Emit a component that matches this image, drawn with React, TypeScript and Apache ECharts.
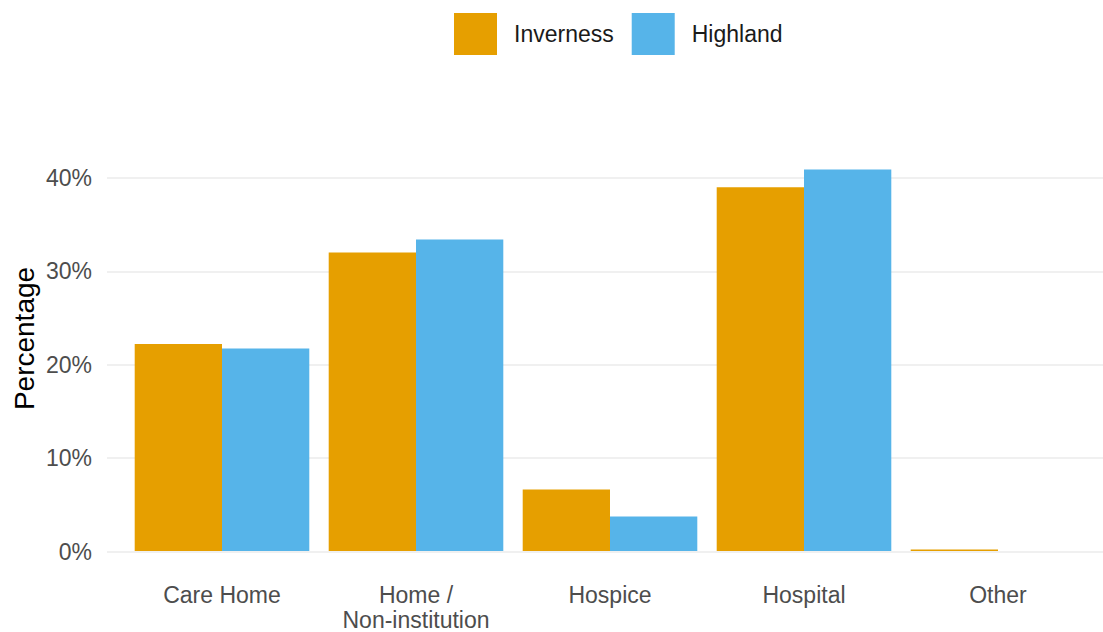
import React, { useEffect, useRef } from "react";
import * as echarts from "echarts";

const categories = ["Care Home", "Home /\nNon-institution", "Hospice", "Hospital", "Other"];
const invernessValues = [22.2, 32.0, 6.6, 39.0, 0.15];
const highlandValues = [21.7, 33.4, 3.7, 40.9, 0];
const seriesNames = ["Inverness", "Highland"];
const yTicks = [0, 10, 20, 30, 40];

const FONT = "'Liberation Sans', Arial, sans-serif";

export default function App() {
  const ref = useRef<HTMLDivElement>(null);
  useEffect(() => {
    if (!ref.current) return;
    const chart = echarts.init(ref.current, null, { renderer: "svg" });
    const pxPerUnit = (551.5 - 178) / 40;
    const barGridTop = 551.5 - 50 * pxPerUnit;
    chart.setOption({
      animation: false,
      textStyle: { fontFamily: FONT },
      grid: [
        { left: 107, right: 0, top: 178, bottom: 632 - 551.5 },
        { left: 125, right: 8, top: barGridTop, bottom: 632 - 551.5 },
      ],
      legend: {
        left: 454,
        top: 13,
        padding: 0,
        itemWidth: 43,
        itemHeight: 42,
        itemGap: 18,
        icon: "rect",
        data: seriesNames,
        textStyle: { fontSize: 23, color: "#1a1a1a", fontFamily: FONT, padding: [0, 0, 0, 12] },
      },
      xAxis: [
        { type: "value", gridIndex: 0, show: false, min: 0, max: 1 },
        {
          type: "category",
          gridIndex: 1,
          data: categories,
          axisLine: { show: false },
          axisTick: { show: false },
          axisLabel: {
            fontSize: 23,
            color: "#4D4D4D",
            fontFamily: FONT,
            margin: 31,
            lineHeight: 25,
            interval: 0,
          },
        },
      ],
      yAxis: [
        {
          type: "value",
          gridIndex: 0,
          min: yTicks[0],
          max: yTicks[yTicks.length - 1],
          interval: 10,
          axisLine: { show: false },
          axisTick: { show: false },
          splitLine: { lineStyle: { color: "#EBEBEB", width: 1.5 } },
          axisLabel: {
            formatter: "{value}%",
            fontSize: 23,
            color: "#4D4D4D",
            fontFamily: FONT,
            margin: 15,
          },
        },
        { type: "value", gridIndex: 1, min: 0, max: 50, show: false },
      ],
      graphic: [
        {
          type: "text",
          x: 24,
          y: 338.5,
          rotation: Math.PI / 2,
          style: {
            text: "Percentage",
            fontSize: 28,
            fontFamily: FONT,
            fill: "#000000",
            textAlign: "center",
            textVerticalAlign: "middle",
          },
        },
      ],
      series: [
        {
          name: seriesNames[0],
          type: "bar",
          xAxisIndex: 1,
          yAxisIndex: 1,
          data: invernessValues,
          itemStyle: { color: "#E69F00" },
          barGap: "0%",
          barCategoryGap: "10%",
        },
        {
          name: seriesNames[1],
          type: "bar",
          xAxisIndex: 1,
          yAxisIndex: 1,
          data: highlandValues,
          itemStyle: { color: "#56B4E9" },
          barGap: "0%",
          barCategoryGap: "10%",
        },
      ],
    });
    return () => chart.dispose();
  }, []);
  return (
    <div
      ref={ref}
      style={{ position: "fixed", left: 0, top: 0, width: 1103, height: 632, background: "#ffffff" }}
    />
  );
}
